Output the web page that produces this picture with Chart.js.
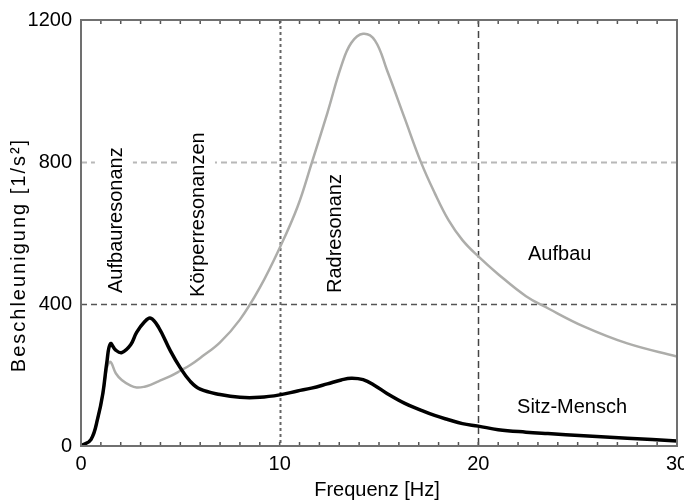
<!DOCTYPE html>
<html>
<head>
<meta charset="utf-8">
<script src="https://cdn.jsdelivr.net/npm/chart.js@4/dist/chart.umd.min.js"></script>
<style>
html,body{margin:0;padding:0;background:#fff;}
#wrap{width:684px;height:500px;position:relative;}
</style>
</head>
<body>
<div id="wrap"><canvas id="c" width="684" height="500"></canvas></div>
<script>
// Frequency [Hz]
const frequency = [0, 0.5, 0.85, 1.1, 1.3, 1.48, 1.75, 2.05, 2.5, 2.8, 3.2, 3.5, 3.9, 4.5, 5, 5.5, 6, 7, 8, 9, 10, 10.9, 11.6, 12.4, 13.1, 13.6, 14.2, 14.8, 15.4, 16.3, 17.1, 17.8, 18.5, 19.2, 20, 21, 22.4, 23.5, 25.3, 27.5, 30];
// Beschleunigung Sitz-Mensch [1/s^2]
const sitzMensch = [0, 18, 80, 148, 235, 288, 270, 263, 285, 320, 350, 360, 335, 268, 220, 182, 160, 145, 137, 137, 144, 155, 163, 175, 186, 191, 187, 170, 148, 120, 101, 86, 74, 63, 56, 46, 39, 35, 29, 22, 14];
// Beschleunigung Aufbau [1/s^2]
const aufbau = [0, 18, 80, 148, 220, 237, 205, 186, 170, 165, 167, 172, 182, 197, 212, 228, 248, 292, 356, 446, 558, 674, 795, 938, 1070, 1135, 1161, 1142, 1059, 922, 801, 713, 636, 580, 534, 484, 422, 388, 337, 289, 252];

const xTicks = [0, 10, 20, 30];
const yTicks = [0, 400, 800, 1200];
const xTitle = 'Frequenz [Hz]';
const yTitle = 'Beschleunigung [1/s\u00B2]';

// annotation labels: text, anchor frequency, anchor value, rotated?
const labelTexts = ['Aufbauresonanz', 'Körperresonanzen', 'Radresonanz', 'Aufbau', 'Sitz-Mensch'];
const labelX = [2.06, 6.19, 13.09, 22.5, 21.95];
const labelY = [431, 420, 431, 524, 93];
const labelRotated = [true, true, true, false, false];

const FONT = '"Liberation Sans", Arial, Helvetica, sans-serif';

const toPts = (ys) => frequency.map((f, i) => ({x: f, y: ys[i]}));

const decor = {
  id: 'decor',
  beforeDatasetsDraw(chart) {
    const {ctx, chartArea: a, scales: {x, y}} = chart;
    ctx.save();
    const hl = (v, color, dash, w) => {
      const py = Math.round(y.getPixelForValue(v)) + 0.5;
      ctx.beginPath(); ctx.setLineDash(dash); ctx.strokeStyle = color; ctx.lineWidth = w;
      ctx.moveTo(a.left, py); ctx.lineTo(a.right, py); ctx.stroke();
    };
    const vl = (v, color, dash, w) => {
      const px = Math.round(x.getPixelForValue(v)) + 0.5;
      ctx.beginPath(); ctx.setLineDash(dash); ctx.strokeStyle = color; ctx.lineWidth = w;
      ctx.moveTo(px, a.top); ctx.lineTo(px, a.bottom); ctx.stroke();
    };
    hl(800, '#b8b8b8', [6, 4], 2);
    hl(400, '#555555', [6, 4], 1.5);
    vl(10, '#666666', [3, 3], 2);
    vl(20, '#444444', [7, 4], 1.5);
    ctx.setLineDash([]);
    ctx.font = '20px ' + FONT;
    labelTexts.forEach((t, i) => {
      if (!labelRotated[i]) return;
      const px = x.getPixelForValue(labelX[i]);
      const py = y.getPixelForValue(labelY[i]);
      const w = ctx.measureText(t).width;
      ctx.fillStyle = '#ffffff';
      ctx.fillRect(px - 27, py - w - 3, 38, w + 6);
    });
    ctx.restore();
  },
  afterDraw(chart) {
    const {ctx, chartArea: a, scales: {x, y}} = chart;
    ctx.save();
    ctx.strokeStyle = '#555555';
    ctx.lineWidth = 1.5;
    for (let f = 1; f < 30; f++) {
      const px = x.getPixelForValue(f);
      ctx.beginPath();
      ctx.moveTo(px, a.bottom); ctx.lineTo(px, a.bottom - 4);
      ctx.moveTo(px, a.top); ctx.lineTo(px, a.top + 4);
      ctx.stroke();
    }
    ctx.strokeStyle = '#707070';
    ctx.lineWidth = 2;
    ctx.strokeRect(a.left, a.top, a.right - a.left, a.bottom - a.top);
    ctx.fillStyle = '#000000';
    ctx.font = '20px ' + FONT;
    labelTexts.forEach((t, i) => {
      const px = x.getPixelForValue(labelX[i]);
      const py = y.getPixelForValue(labelY[i]);
      ctx.save();
      ctx.translate(px, py);
      if (labelRotated[i]) ctx.rotate(-Math.PI / 2);
      ctx.textAlign = 'left';
      ctx.textBaseline = 'alphabetic';
      ctx.fillText(t, 0, 0);
      ctx.restore();
    });
    ctx.save();
    ctx.textAlign = 'center';
    ctx.textBaseline = 'alphabetic';
    ctx.fillText(xTitle, 377, 496);
    ctx.translate(25, 255);
    ctx.rotate(-Math.PI / 2);
    try { ctx.letterSpacing = '2px'; } catch (e) {}
    ctx.fillText(yTitle, 0, 0);
    ctx.restore();
    ctx.restore();
  }
};

new Chart(document.getElementById('c'), {
  type: 'line',
  data: {
    datasets: [
      {label: 'Sitz-Mensch', data: toPts(sitzMensch), borderColor: '#000000', borderWidth: 3.5, pointRadius: 0, tension: 0.4, fill: false},
      {label: 'Aufbau', data: toPts(aufbau), borderColor: '#adadaa', borderWidth: 2.5, pointRadius: 0, tension: 0.4, fill: false}
    ]
  },
  options: {
    responsive: false,
    animation: false,
    devicePixelRatio: 1,
    layout: {padding: {top: 20, right: 7, left: 0, bottom: 0}},
    plugins: {legend: {display: false}, tooltip: {enabled: false}},
    scales: {
      x: {
        type: 'linear', min: 0, max: 30,
        afterFit(s) { s.height = 54; s.paddingLeft = 0; s.paddingRight = 0; },
        afterBuildTicks(s) { s.ticks = xTicks.map(v => ({value: v})); },
        grid: {display: false, drawTicks: false},
        border: {display: false},
        ticks: {color: '#000', font: {family: FONT, size: 20}, padding: 6, maxRotation: 0, autoSkip: false, callback: v => String(v)}
      },
      y: {
        type: 'linear', min: 0, max: 1200,
        afterFit(s) { s.width = 81; s.paddingTop = 0; s.paddingBottom = 0; },
        afterBuildTicks(s) { s.ticks = yTicks.map(v => ({value: v})); },
        grid: {display: false, drawTicks: false},
        border: {display: false},
        ticks: {color: '#000', font: {family: FONT, size: 20}, padding: 9, callback: v => String(v)}
      }
    }
  },
  plugins: [decor]
});
</script>
</body>
</html>
